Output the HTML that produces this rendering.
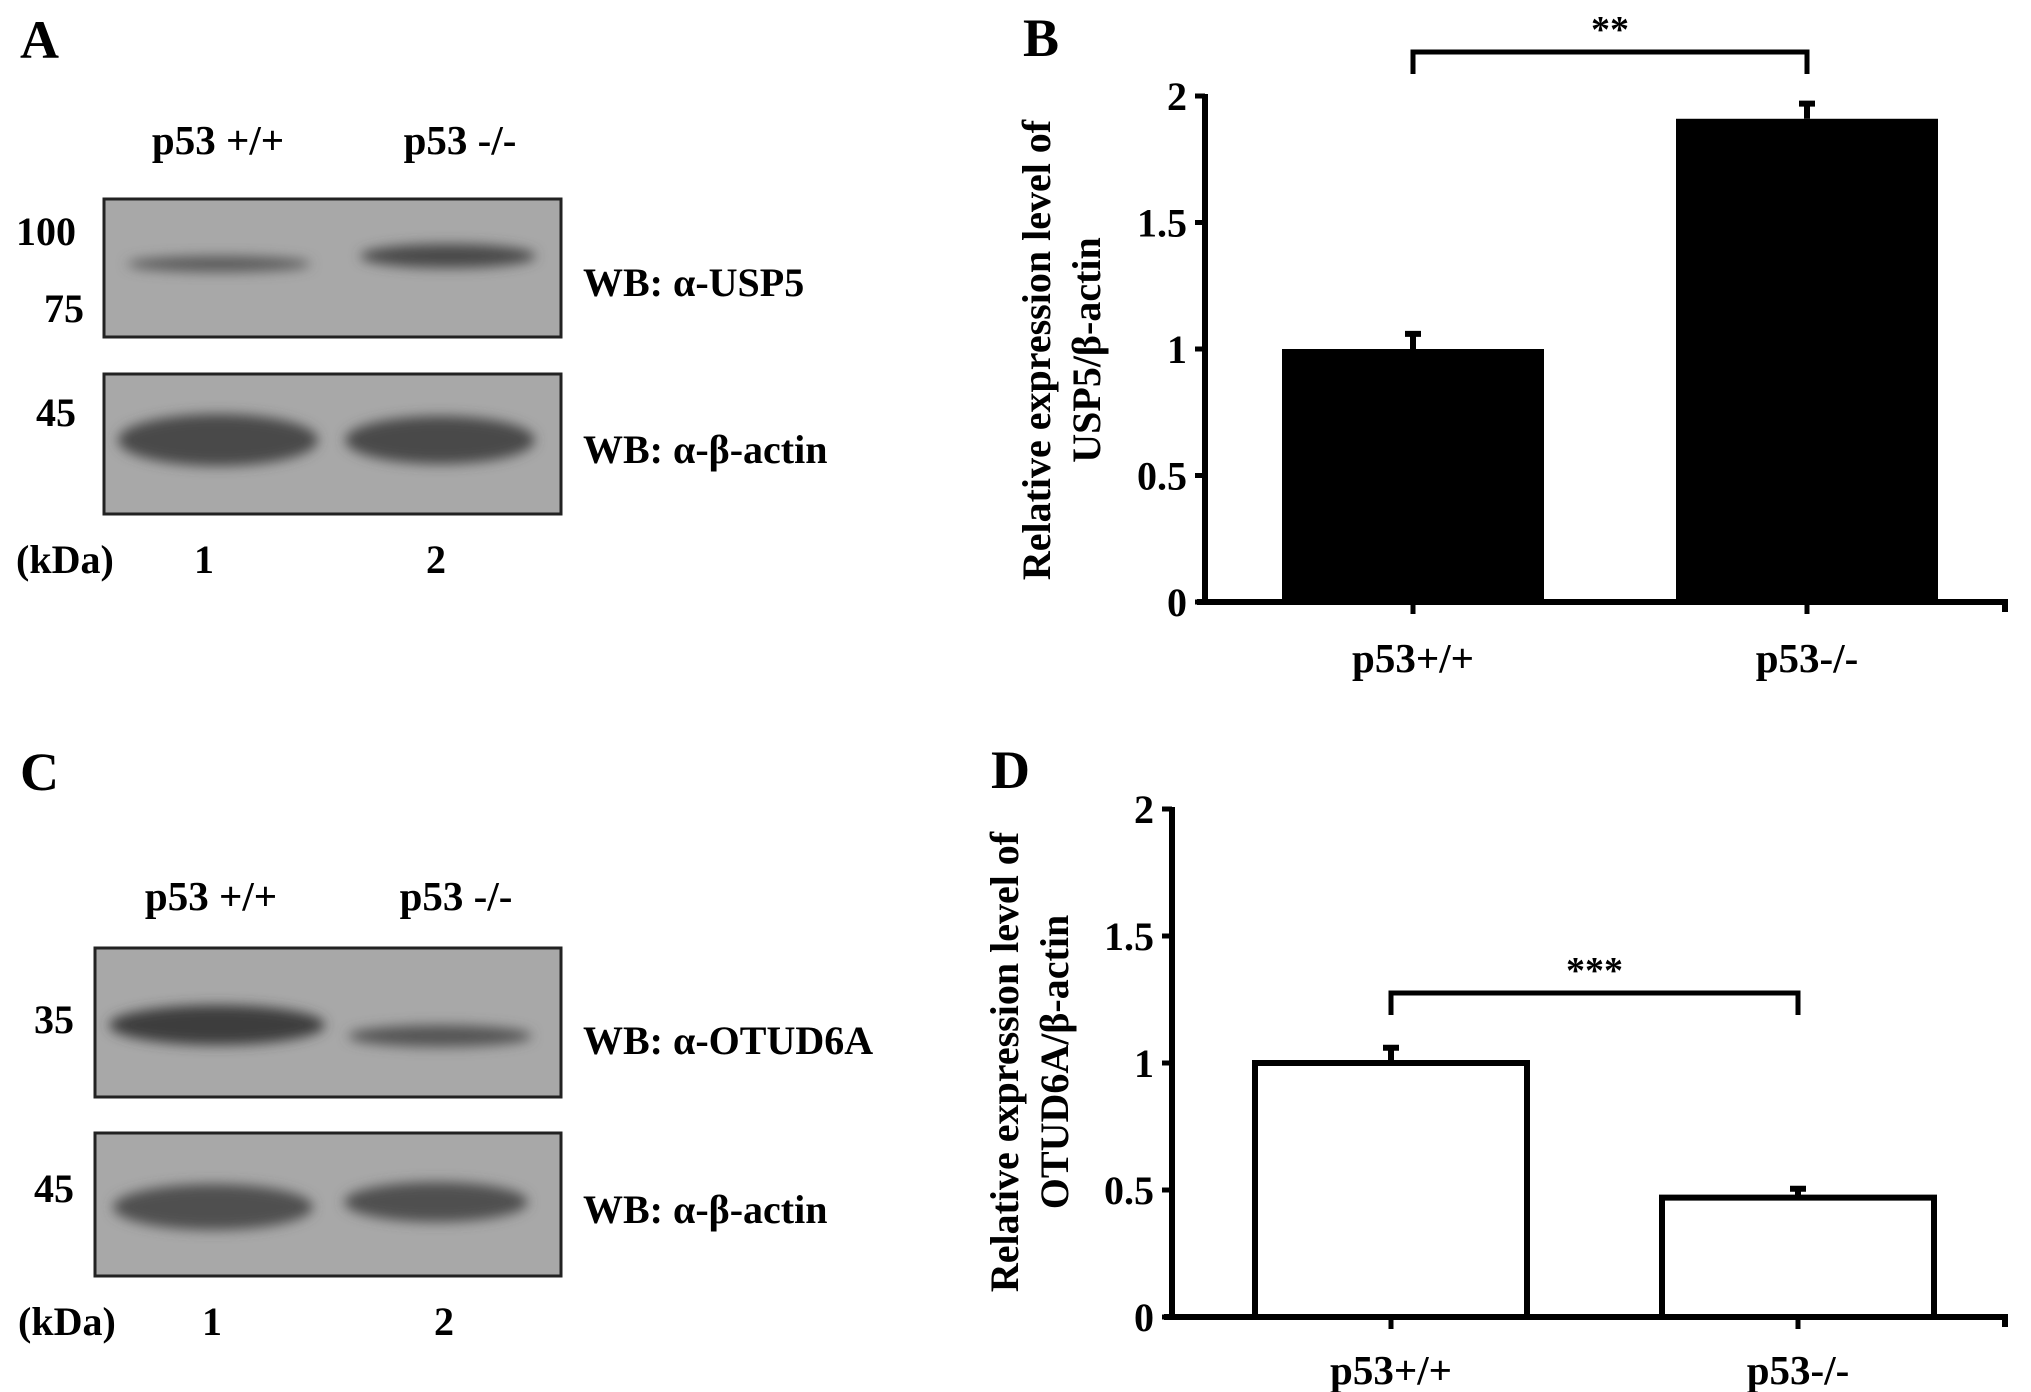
<!DOCTYPE html>
<html><head><meta charset="utf-8">
<style>
html,body{margin:0;padding:0;background:#fff;}
svg{display:block;font-family:"Liberation Serif",serif;font-weight:bold;}
</style></head>
<body>
<svg id="fig" width="2031" height="1392" viewBox="0 0 2031 1392" xmlns="http://www.w3.org/2000/svg">
<defs>
<filter id="blur" x="-20%" y="-80%" width="140%" height="260%"><feGaussianBlur stdDeviation="6"/></filter>
</defs>
<!-- Panel A -->
<text x="20" y="58" font-size="54">A</text>
<text x="218" y="154" font-size="41" text-anchor="middle">p53 +/+</text>
<text x="460" y="154" font-size="41" text-anchor="middle">p53 -/-</text>
<g>
<rect x="104" y="199" width="457" height="138" fill="#a8a8a8" stroke="#222" stroke-width="3"/>
<ellipse cx="219" cy="264" rx="92" ry="8" fill="#5a5a5a" filter="url(#blur)"/>
<ellipse cx="448" cy="256" rx="88" ry="12" fill="#4a4a4a" filter="url(#blur)"/>
</g>
<g>
<rect x="104" y="374" width="457" height="140" fill="#a8a8a8" stroke="#222" stroke-width="3"/>
<ellipse cx="218" cy="440" rx="100" ry="26" fill="#4a4a4a" filter="url(#blur)"/>
<ellipse cx="440" cy="440" rx="95" ry="24" fill="#4a4a4a" filter="url(#blur)"/>
</g>
<text x="16" y="245" font-size="40">100</text>
<text x="44" y="322" font-size="40">75</text>
<text x="36" y="426" font-size="40">45</text>
<text x="583" y="296" font-size="40">WB: α-USP5</text>
<text x="583" y="463" font-size="40">WB: α-β-actin</text>
<text x="16" y="573" font-size="40">(kDa)</text>
<text x="204" y="573" font-size="40" text-anchor="middle">1</text>
<text x="436" y="573" font-size="40" text-anchor="middle">2</text>

<!-- Panel C -->
<text x="20" y="790" font-size="54">C</text>
<text x="211" y="910" font-size="41" text-anchor="middle">p53 +/+</text>
<text x="456" y="910" font-size="41" text-anchor="middle">p53 -/-</text>
<g>
<rect x="95" y="948" width="466" height="149" fill="#a8a8a8" stroke="#222" stroke-width="3"/>
<ellipse cx="217" cy="1025" rx="108" ry="20" fill="#3e3e3e" filter="url(#blur)"/>
<ellipse cx="440" cy="1036" rx="92" ry="11" fill="#555" filter="url(#blur)"/>
</g>
<g>
<rect x="95" y="1133" width="466" height="143" fill="#a8a8a8" stroke="#222" stroke-width="3"/>
<ellipse cx="213" cy="1207" rx="100" ry="23" fill="#505050" filter="url(#blur)"/>
<ellipse cx="436" cy="1202" rx="92" ry="20" fill="#505050" filter="url(#blur)"/>
</g>
<text x="34" y="1033" font-size="40">35</text>
<text x="34" y="1202" font-size="40">45</text>
<text x="583" y="1054" font-size="40">WB: α-OTUD6A</text>
<text x="583" y="1223" font-size="40">WB: α-β-actin</text>
<text x="18" y="1335" font-size="40">(kDa)</text>
<text x="212" y="1335" font-size="40" text-anchor="middle">1</text>
<text x="444" y="1335" font-size="40" text-anchor="middle">2</text>

<!-- Panel labels for charts -->
<text x="1023" y="56" font-size="54">B</text>
<text x="991" y="788" font-size="54">D</text>
<g id="chartB"></g>
<g id="chartD"></g>
</svg>
<script>
const categories = ["p53+/+", "p53-/-"];
const yTicks = [0, 0.5, 1, 1.5, 2];
const yTickLabels = ["0", "0.5", "1", "1.5", "2"];
const usp5Values = [1.0, 1.91];
const usp5Errors = [0.06, 0.06];
const otud6aValues = [1.0, 0.47];
const otud6aErrors = [0.06, 0.035];
const sigB = "**";
const sigD = "***";

const NS = "http://www.w3.org/2000/svg";
function mk(parent, tag, attrs, text) {
  const el = document.createElementNS(NS, tag);
  for (const k in attrs) el.setAttribute(k, attrs[k]);
  if (text !== undefined) el.textContent = text;
  parent.appendChild(el);
  return el;
}

function drawChart(g, cfg, values, errors, sig) {
  const yScale = v => cfg.y0 - (v / 2) * (cfg.y0 - cfg.y2);
  const xCenter = i => cfg.barX[i] + cfg.barW / 2;
  values.forEach((v, i) => {
    const r = mk(g, "rect", {x: cfg.barX[i], y: yScale(v), width: cfg.barW, height: cfg.y0 - yScale(v),
      fill: cfg.fill, stroke: "#000", "stroke-width": cfg.fill === "#000" ? 0 : 6});
    
    
    const e = mk(g, "path", {d: `M${xCenter(i)},${yScale(v)} V${yScale(v + errors[i])} M${xCenter(i)-8},${yScale(v + errors[i])} H${xCenter(i)+8}`,
      stroke: "#000", "stroke-width": 6, fill: "none"});
    
    
  });
  const ax = mk(g, "path", {d: `M${cfg.ax},${cfg.y2 - 2} V${cfg.y0} M${cfg.ax - 8},${cfg.y0} H${cfg.xEnd} V${cfg.y0 + 10}`, stroke: "#000", "stroke-width": 6, fill: "none"});
  
  
  yTicks.forEach((t, i) => {
    const tk = mk(g, "line", {x1: cfg.ax - 10, x2: cfg.ax, y1: yScale(t), y2: yScale(t), stroke: "#000", "stroke-width": 5});
    
    
    const tl = mk(g, "text", {x: cfg.ax - 18, y: yScale(t) + 14, "font-size": 40, "text-anchor": "end"}, yTickLabels[i]);
    
    
  });
  categories.forEach((c, i) => {
    const tk = mk(g, "line", {x1: xCenter(i), x2: xCenter(i), y1: cfg.y0, y2: cfg.y0 + 12, stroke: "#000", "stroke-width": 5});
    
    
    const tl = mk(g, "text", {x: xCenter(i), y: cfg.labelY, "font-size": 41, "text-anchor": "middle"}, c);
    
    
  });
  const yt = mk(g, "text", {transform: `translate(${cfg.titleX},${cfg.titleY}) rotate(-90)`, "font-size": 40, "text-anchor": "middle"});
  
  
  mk(yt, "tspan", {x: 0, y: 0}, "Relative expression level of");
  mk(yt, "tspan", {x: 0, y: 50}, cfg.titleLine2);
  const br = mk(g, "path", {d: `M${xCenter(0)},${cfg.brY + 22} V${cfg.brY} H${xCenter(1)} V${cfg.brY + 22}`, stroke: "#000", "stroke-width": 5, fill: "none"});
  
  
  const st = mk(g, "text", {x: (xCenter(0) + xCenter(1)) / 2, y: cfg.brY - 10, "font-size": 38, "text-anchor": "middle"}, sig);
  
  
}

drawChart(document.getElementById("chartB"),
  {id: "b", y0: 602, y2: 96, ax: 1205, xEnd: 2005, barX: [1282, 1676], barW: 262, fill: "#000",
   labelY: 672, titleX: 1050, titleY: 350, titleLine2: "USP5/β-actin", brY: 52},
  usp5Values, usp5Errors, sigB);
drawChart(document.getElementById("chartD"),
  {id: "d", y0: 1317, y2: 809, ax: 1172, xEnd: 2005, barX: [1255, 1662], barW: 272, fill: "#fff",
   labelY: 1384, titleX: 1018, titleY: 1062, titleLine2: "OTUD6A/β-actin", brY: 993},
  otud6aValues, otud6aErrors, sigD);
</script>
</body></html>
